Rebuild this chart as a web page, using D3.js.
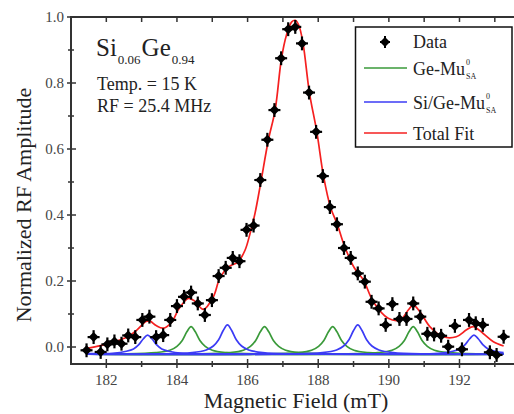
<!DOCTYPE html>
<html>
<head>
<meta charset="utf-8">
<script src="https://cdn.jsdelivr.net/npm/d3@7"></script>
<style>
  body { margin: 0; background: #fff; }
  svg { display: block; font-family: "Liberation Serif", "DejaVu Serif", serif; }
</style>
</head>
<body>
<svg id="chart" width="514" height="414"></svg>
<script>
// measured points (field in mT, normalized amplitude)
const dataX = [181.44,181.64,181.84,182.03,182.23,182.43,182.62,182.82,183.02,183.22,
  183.41,183.61,183.81,184.00,184.20,184.40,184.59,184.79,184.99,185.18,
  185.38,185.58,185.77,185.97,186.17,186.36,186.56,186.76,186.95,187.15,
  187.35,187.54,187.74,187.94,188.13,188.33,188.53,188.73,188.92,189.12,
  189.32,189.51,189.71,189.91,190.10,190.30,190.50,190.69,190.89,191.09,
  191.28,191.48,191.68,191.87,192.07,192.27,192.46,192.66,192.86,193.05,193.25];
const dataY = [-0.010,0.030,-0.015,0.008,0.017,0.010,0.035,0.030,0.082,0.092,
  0.030,0.036,0.082,0.124,0.152,0.165,0.132,0.097,0.142,0.215,
  0.240,0.270,0.260,0.355,0.368,0.506,0.628,0.718,0.875,0.963,
  0.970,0.920,0.771,0.652,0.518,0.424,0.372,0.300,0.270,0.223,
  0.198,0.137,0.117,0.067,0.130,0.085,0.085,0.132,0.092,0.040,
  0.038,0.034,0.001,0.064,-0.007,0.082,0.072,0.067,-0.016,-0.024,0.031];
const errY = 0.021;
const errX = 0.17;

// total fit curve
const fitX = [181.44,181.84,182.23,182.62,182.87,183.12,183.23,183.41,183.61,183.85,
  184.05,184.32,184.49,184.75,185.03,185.22,185.46,185.73,185.93,186.07,
  186.21,186.36,186.59,186.78,186.96,187.10,187.25,187.35,187.45,187.57,
  187.75,187.96,188.15,188.35,188.54,188.73,189.02,189.28,189.56,189.98,
  190.32,190.55,190.69,190.88,191.16,191.54,191.91,192.20,192.39,192.67,192.96,193.25];
const fitY = [-0.005,0.004,0.016,0.032,0.052,0.077,0.079,0.065,0.057,0.075,
  0.115,0.147,0.140,0.114,0.152,0.210,0.243,0.258,0.294,0.344,
  0.405,0.490,0.628,0.718,0.875,0.945,0.985,0.990,0.975,0.920,
  0.771,0.652,0.518,0.423,0.372,0.310,0.240,0.203,0.137,0.087,
  0.082,0.112,0.127,0.107,0.062,0.031,0.031,0.052,0.062,0.041,0.016,0.003];

// Ge-Mu0 SA components (green)
const geMu = [
  [[181.44,-0.022],[182.4,-0.021],[183.4,-0.017],[183.8,-0.010],[184.0,0.002],[184.15,0.020],[184.28,0.046],[184.4,0.062],[184.52,0.046],[184.65,0.020],[184.8,0.002],[185.0,-0.010],[185.4,-0.017],[186.4,-0.021],[193.25,-0.022]],
  [[181.44,-0.022],[184.48,-0.021],[185.48,-0.017],[185.88,-0.010],[186.08,0.002],[186.23,0.020],[186.36,0.046],[186.48,0.062],[186.6,0.046],[186.73,0.020],[186.88,0.002],[187.08,-0.010],[187.48,-0.017],[188.48,-0.021],[193.25,-0.022]],
  [[181.44,-0.022],[186.41,-0.021],[187.41,-0.017],[187.81,-0.010],[188.01,0.002],[188.16,0.020],[188.29,0.046],[188.41,0.062],[188.53,0.046],[188.66,0.020],[188.81,0.002],[189.01,-0.010],[189.41,-0.017],[190.41,-0.021],[193.25,-0.022]],
  [[181.44,-0.022],[188.69,-0.021],[189.69,-0.017],[190.09,-0.010],[190.29,0.002],[190.44,0.020],[190.57,0.046],[190.69,0.062],[190.81,0.046],[190.94,0.020],[191.09,0.002],[191.29,-0.010],[191.69,-0.017],[192.69,-0.021],[193.25,-0.022]]
];

// Si/Ge-Mu0 SA components (blue)
const siGeMu = [
  [[181.44,-0.020],[182.17,-0.019],[182.57,-0.013],[182.77,-0.006],[182.92,0.007],[183.05,0.025],[183.17,0.036],[183.29,0.025],[183.42,0.007],[183.57,-0.006],[183.77,-0.013],[184.17,-0.019],[185.17,-0.021],[193.25,-0.022]],
  [[181.44,-0.022],[183.43,-0.021],[184.43,-0.017],[184.83,-0.009],[185.03,0.003],[185.18,0.022],[185.31,0.050],[185.43,0.067],[185.55,0.050],[185.68,0.022],[185.83,0.003],[186.03,-0.009],[186.43,-0.017],[187.43,-0.021],[193.25,-0.022]],
  [[181.44,-0.022],[187.12,-0.021],[188.12,-0.017],[188.52,-0.009],[188.72,0.003],[188.87,0.022],[189.0,0.050],[189.12,0.067],[189.24,0.050],[189.37,0.022],[189.52,0.003],[189.72,-0.009],[190.12,-0.017],[191.12,-0.021],[193.25,-0.022]],
  [[181.44,-0.022],[190.41,-0.021],[191.41,-0.019],[191.81,-0.013],[192.01,-0.006],[192.16,0.007],[192.29,0.025],[192.41,0.036],[192.53,0.025],[192.66,0.007],[192.81,-0.006],[193.01,-0.013],[193.25,-0.017]]
];

const xTicks = [182, 184, 186, 188, 190, 192];
const yTicks = [0.0, 0.2, 0.4, 0.6, 0.8, 1.0];

const green = "#3a9a3a", blue = "#3b3bf5", red = "#f52020", axisCol = "#333";

const svg = d3.select("#chart");
svg.append("rect").attr("width", 514).attr("height", 414).attr("fill", "#fff");

const x = d3.scaleLinear().domain([181, 193.6]).range([71, 516]);
const y = d3.scaleLinear().domain([-0.0515, 1.0]).range([364, 17]);

const line = d3.line()
  .x(d => x(d[0]))
  .y(d => y(d[1]))
  .curve(d3.curveCatmullRom.alpha(0.5));

// components
svg.append("g").selectAll("path").data(geMu).join("path")
  .attr("d", line).attr("fill", "none").attr("stroke", green).attr("stroke-width", 1.7);
svg.append("g").selectAll("path").data(siGeMu).join("path")
  .attr("d", line).attr("fill", "none").attr("stroke", blue).attr("stroke-width", 1.7);

// total fit
const fit = fitX.map((v, i) => [v, fitY[i]]);
svg.append("path").datum(fit).attr("d", line)
  .attr("fill", "none").attr("stroke", red).attr("stroke-width", 1.7);

// data points with error bars
const diamond = "M0,-5L5,0L0,5L-5,0Z";
const pts = dataX.map((v, i) => ({x: v, y: dataY[i]}));
const pg = svg.append("g").selectAll("g").data(pts).join("g");
pg.append("line")
  .attr("x1", d => x(d.x)).attr("x2", d => x(d.x))
  .attr("y1", d => y(d.y - errY)).attr("y2", d => y(d.y + errY))
  .attr("stroke", "#000").attr("stroke-width", 2.2);
pg.append("line")
  .attr("x1", d => x(d.x - errX)).attr("x2", d => x(d.x + errX))
  .attr("y1", d => y(d.y)).attr("y2", d => y(d.y))
  .attr("stroke", "#000").attr("stroke-width", 2.2);
pg.append("path")
  .attr("transform", d => `translate(${x(d.x)},${y(d.y)})`)
  .attr("d", diamond)
  .attr("fill", "#000");

// frame
const ax = svg.append("g").attr("stroke", axisCol).attr("stroke-width", 2).attr("fill", "none");
ax.append("line").attr("x1", 71).attr("x2", 71).attr("y1", 16).attr("y2", 365);
ax.append("line").attr("x1", 70).attr("x2", 516).attr("y1", 364).attr("y2", 364);
ax.append("line").attr("x1", 70).attr("x2", 516).attr("y1", 17).attr("y2", 17);

// ticks
const tk = svg.append("g").attr("stroke", axisCol).attr("stroke-width", 1.5);
d3.range(182, 194, 1).forEach(v => {
  const major = v % 2 === 0;
  tk.append("line").attr("x1", x(v)).attr("x2", x(v))
    .attr("y1", 364 - (major ? 5 : 3)).attr("y2", 364 + (major ? 4 : 3));
  tk.append("line").attr("x1", x(v)).attr("x2", x(v)).attr("y1", 17).attr("y2", 22);
});
d3.range(0, 11).forEach(i => {
  const v = i / 10, major = i % 2 === 0;
  tk.append("line").attr("y1", y(v)).attr("y2", y(v))
    .attr("x1", 71 - (major ? 4 : 3)).attr("x2", 71 + (major ? 5 : 3));
});

// tick labels
svg.append("g").selectAll("text").data(xTicks).join("text")
  .attr("x", d => x(d)).attr("y", 385).attr("text-anchor", "middle")
  .attr("font-size", 15).attr("fill", "#444").text(d => d);
svg.append("g").selectAll("text").data(yTicks).join("text")
  .attr("x", 64).attr("y", d => y(d) + 5).attr("text-anchor", "end")
  .attr("font-size", 15).attr("fill", "#444").text(d => d.toFixed(1));

// axis titles
svg.append("text").attr("x", 296).attr("y", 408).attr("text-anchor", "middle")
  .attr("font-size", 22).attr("fill", "#222").text("Magnetic Field (mT)");
svg.append("text").attr("transform", "translate(31,205) rotate(-90)")
  .attr("text-anchor", "middle").attr("font-size", 22).attr("fill", "#222")
  .text("Normalized RF Amplitude");

// annotations
const comp = svg.append("text").attr("x", 96).attr("y", 56).attr("font-size", 25).attr("fill", "#222");
comp.append("tspan").text("Si");
comp.append("tspan").attr("font-size", 13).attr("dx", 1).attr("dy", 8).text("0.06");
comp.append("tspan").attr("dx", 1).attr("dy", -8).text("Ge");
comp.append("tspan").attr("font-size", 13).attr("dx", 1).attr("dy", 8).text("0.94");
svg.append("text").attr("x", 97).attr("y", 90).attr("font-size", 18).attr("fill", "#222").text("Temp. = 15 K");
svg.append("text").attr("x", 97).attr("y", 112).attr("font-size", 18).attr("fill", "#222").text("RF = 25.4 MHz");

// legend
const lg = svg.append("g");
lg.append("rect").attr("x", 355.5).attr("y", 27).attr("width", 156.5).attr("height", 120)
  .attr("fill", "#fff").attr("stroke", "#111").attr("stroke-width", 1.5);
lg.append("line").attr("x1", 385).attr("x2", 385).attr("y1", 36).attr("y2", 48).attr("stroke", "#000").attr("stroke-width", 2);
lg.append("line").attr("x1", 380).attr("x2", 390).attr("y1", 42).attr("y2", 42).attr("stroke", "#000").attr("stroke-width", 2);
lg.append("path").attr("transform", "translate(385,42)").attr("d", diamond).attr("fill", "#000");
lg.append("text").attr("x", 413).attr("y", 48).attr("font-size", 18).attr("fill", "#222").text("Data");

const legendRows = [
  {color: green, y: 68, base: "Ge-Mu"},
  {color: blue, y: 102, base: "Si/Ge-Mu"},
  {color: red, y: 133, base: "Total Fit"}
];
legendRows.forEach(r => {
  lg.append("line").attr("x1", 364).attr("x2", 407).attr("y1", r.y).attr("y2", r.y)
    .attr("stroke", r.color).attr("stroke-width", 1.7);
  const t = lg.append("text").attr("x", 413).attr("y", r.y + 7).attr("font-size", 18).attr("fill", "#222");
  t.append("tspan").text(r.base);
  if (r.base !== "Total Fit") {
    const bb = t.node().getComputedTextLength();
    lg.append("text").attr("x", 414 + bb).attr("y", r.y - 3).attr("font-size", 8).attr("fill", "#222").text("0");
    lg.append("text").attr("x", 414 + bb).attr("y", r.y + 11).attr("font-size", 8).attr("fill", "#222").text("SA");
  }
});
</script>
</body>
</html>
